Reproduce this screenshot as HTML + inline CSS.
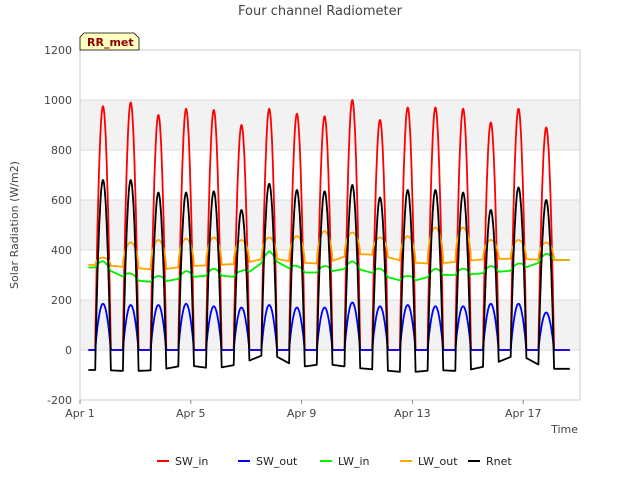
<!DOCTYPE html>
<html><head><meta charset="utf-8"><style>
body{margin:0;background:#fff}
svg{font-family:"DejaVu Sans","Liberation Sans",sans-serif}
</style></head><body>
<svg id="c" width="640" height="480" viewBox="0 0 640 480">
<text x="320" y="15" text-anchor="middle" font-size="13" fill="#444">Four channel Radiometer</text>
<g id="plot"></g>
<text x="18" y="225" transform="rotate(-90 18 225)" text-anchor="middle" font-size="11" fill="#444">Solar Radiation (W/m2)</text>
<text x="578" y="433" text-anchor="end" font-size="11" fill="#444">Time</text>
<g>
<path d="M80,50 L80,37 L84,33 L134,33 L139,38 L139,50 Z" fill="#ffffc0" stroke="#000" stroke-width="0.8"/>
<text x="87" y="46" font-size="11" font-weight="bold" fill="#8b0000">RR_met</text></g>
<g id="legend"></g>
</svg>
<script>
const days=[0,1,2,3,4,5,6,7,8,9,10,11,12,13,14,15,16];
const swInPeak=[975,990,940,965,960,900,965,945,935,1000,920,970,970,965,910,965,890];
const swOutPeak=[185,180,180,185,175,170,180,170,170,190,175,180,175,175,185,185,150];
const rnetPeak=[680,680,630,630,635,560,665,640,635,660,610,640,640,630,560,650,600];
const rnetNight=[-80,-85,-80,-60,-75,-55,-10,-70,-55,-70,-80,-90,-80,-85,-60,-15,-75];
const lwIn=[330,280,270,290,300,290,370,310,310,330,300,270,300,300,310,320,360];
const lwOutPeak=[370,430,440,445,450,440,450,455,475,470,450,455,490,490,440,440,430];
const lwOutNight=[340,330,320,335,340,345,370,350,345,385,380,350,345,355,365,365,360];
const yTicks=[-200,0,200,400,600,800,1000,1200];
const xTicks=[0,4,8,12,16];
const xTickLabels=["Apr 1","Apr 5","Apr 9","Apr 13","Apr 17"];
const NS="http://www.w3.org/2000/svg";
const X0=80,X1=580,Y0=50,Y1=400,DMAX=18.05;
const xs=d=>X0+d*(X1-X0)/DMAX;
const ys=v=>Y1-(v+200)*(Y1-Y0)/1400;
const plot=document.getElementById('plot');
function mk(t,a,p){const e=document.createElementNS(NS,t);for(const k in a)e.setAttribute(k,a[k]);(p||plot).appendChild(e);return e;}
for(let i=0;i<yTicks.length-1;i++){const b=mk('rect',{x:X0,y:ys(yTicks[i+1]),width:X1-X0,height:ys(yTicks[i])-ys(yTicks[i+1]),fill:(i%2==1)?'#f2f2f2':'#fff'});

}
yTicks.forEach(v=>{const l=mk('line',{x1:X0,x2:X1,y1:ys(v),y2:ys(v),stroke:'#ddd','stroke-width':1});


const t=mk('text',{x:X0-8,y:ys(v)+4,'text-anchor':'end','font-size':11,fill:'#444'});t.textContent=v;

});
mk('rect',{x:X0,y:Y0,width:X1-X0,height:Y1-Y0,fill:'none',stroke:'#ccc'});
xTicks.forEach((d,i)=>{mk('line',{x1:xs(d),x2:xs(d),y1:Y1,y2:Y1+4,stroke:'#888'});
const t=mk('text',{x:xs(d),y:Y1+17,'text-anchor':'middle','font-size':11,fill:'#444'});t.textContent=xTickLabels[i];

});
const PK=0.83,HW=0.28;
function shape(t,k){const u=(t-(k+PK))/HW;return Math.abs(u)<1?Math.pow(Math.cos(u*Math.PI/2),0.85):0;}
function dayOf(t){return Math.max(0,Math.min(days.length-1,Math.round(t-PK)));}
function interp(arr,t){const f=t-PK;const i=Math.max(0,Math.min(arr.length-1,Math.floor(f)));const j=Math.min(arr.length-1,i+1);let w=f-Math.floor(f);if(f<0||f>arr.length-1)w=0;return arr[i]*(1-w)+arr[j]*w;}
function series(f){const pts=[];for(let t=0.3;t<=17.7;t+=1/60){pts.push(xs(t).toFixed(1)+','+ys(f(t)).toFixed(1));}return pts.join(' ');}
const defs=[
["SW_in","#ff0000",t=>{const k=dayOf(t);return swInPeak[k]*shape(t,k);}],
["SW_out","#0000ff",t=>{const k=dayOf(t);return swOutPeak[k]*shape(t,k);}],
["LW_in","#00ee00",t=>{const k=dayOf(t);return interp(lwIn,t)+25*shape(t,k);}],
["LW_out","#ffa500",t=>{const k=dayOf(t);const s=shape(t,k);const n=interp(lwOutNight,t);return n+(lwOutPeak[k]-n)*Math.pow(s,0.6);}],
["Rnet","#000000",t=>{const k=dayOf(t);const s=shape(t,k);const n=interp(rnetNight,t);return n+(rnetPeak[k]-n)*s;}]
];
defs.forEach(([n,c,f])=>{const p=mk('polyline',{points:series(f),fill:'none',stroke:c,'stroke-width':1.8,'stroke-linejoin':'round'});

});
const lg=document.getElementById('legend');
const lx=[157,238,320,400,468];
defs.forEach(([n,c],i)=>{const g=mk('g',{},lg);


mk('line',{x1:lx[i],x2:lx[i]+12,y1:461,y2:461,stroke:c,'stroke-width':2},g);
const t=mk('text',{x:lx[i]+18,y:465,'font-size':11,fill:'#222'},g);t.textContent=n;});
</script>
</body></html>
